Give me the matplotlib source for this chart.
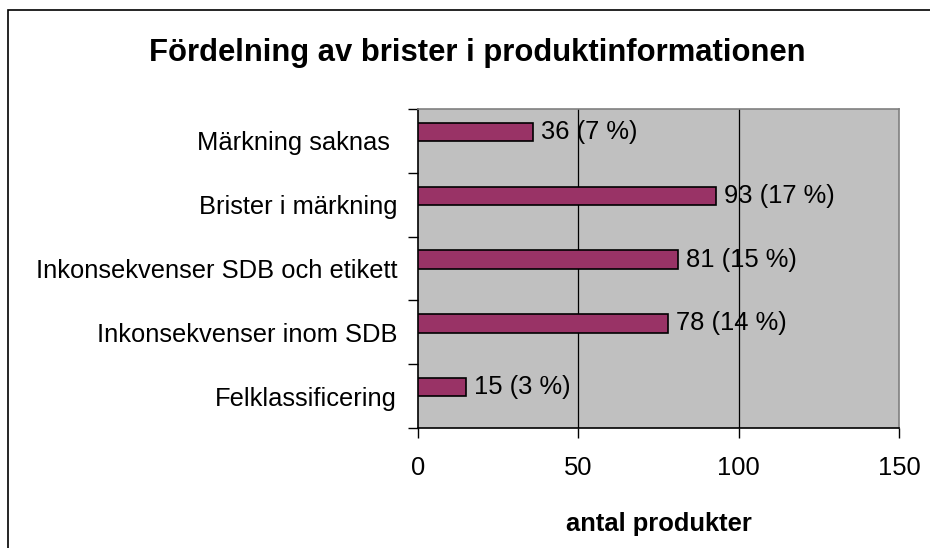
import matplotlib.pyplot as plt
import matplotlib.patches as mpatches
import numpy as np

# data (top to bottom)
categories = ["Märkning saknas ", "Brister i märkning", "Inkonsekvenser SDB och etikett",
              "Inkonsekvenser inom SDB", "Felklassificering"]
counts = [36, 93, 81, 78, 15]
percents = [7, 17, 15, 14, 3]
x_ticks = [0, 50, 100, 150]

plt.rcParams['font.family'] = ['Liberation Sans', 'DejaVu Sans']
FS = 18.4

fig = plt.figure(figsize=(9.3, 5.48), dpi=100)
ax = fig.add_axes([0.4495, 0.219, 0.5172, 0.582])

# outer chart border
fig.patches.append(mpatches.Rectangle((8 / 930, -0.05), 1.0, 1.05 - 10 / 548,
                                      transform=fig.transFigure, fill=False,
                                      edgecolor='black', linewidth=1.2))

n = len(categories)
centers = np.arange(n)[::-1] + 0.5      # category band centers, top first
bar_pos = centers + 0.14                # bars sit a bit above band center (Excel style)

ax.set_facecolor('#C0C0C0')
ax.barh(bar_pos, counts, height=0.29, color='#993366', edgecolor='black', linewidth=1.2, zorder=3)

for y, c, p in zip(bar_pos, counts, percents):
    ax.text(c + 2.5, y, f"{c} ({p} %)", va='center', ha='left', fontsize=FS, zorder=4)

ax.set_xlim(0, 150)
ax.set_ylim(0, n)
ax.set_xticks(x_ticks)
ax.set_xticklabels([str(t) for t in x_ticks], fontsize=FS)

# ticks at band boundaries, labels at band centers
ax.set_yticks(np.arange(n + 1))
ax.set_yticklabels([])
ax.set_yticks(centers, minor=True)
ax.set_yticklabels(categories, minor=True, fontsize=FS)
ax.tick_params(axis='y', which='minor', length=0, pad=15)
ax.tick_params(axis='y', which='major', length=7, direction='out', width=1)
ax.tick_params(axis='x', length=7, direction='out', width=1, pad=13)

for v in [50, 100]:
    ax.axvline(v, color='black', linewidth=0.9, zorder=2)

ax.spines['left'].set_color('black')
ax.spines['bottom'].set_color('black')
ax.spines['top'].set_color('#808080')
ax.spines['right'].set_color('#808080')
for s in ax.spines.values():
    s.set_linewidth(1.2)

ax.set_xlabel("antal produkter", fontsize=FS, fontweight='bold', labelpad=23)
fig.text(477 / 930, 1 - 53 / 548, "Fördelning av brister i produktinformationen",
         ha='center', va='center', fontsize=22.3, fontweight='bold')

fig.savefig("out.png", dpi=100)
